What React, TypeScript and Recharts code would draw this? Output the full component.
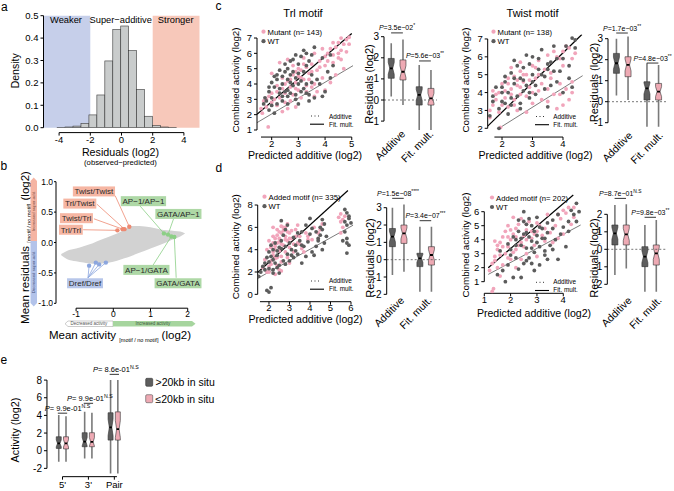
import React from "react";
import {
  ComposedChart,
  Scatter,
  Bar,
  Area,
  Line,
  XAxis,
  YAxis,
  ReferenceLine,
  ReferenceArea,
} from "recharts";

const W = 674;
const H = 491;
const FONT = "'Liberation Sans', Arial, sans-serif";
const PINK = "#f1a5bb";
const GREY = "#5c5c5c";
const BOX_FILL: Record<string, string> = { grey: "#5e5e5e", pink: "#eeaab4" };
const TONE_PT: Record<string, string> = { pink: "#ee8a72", green: "#8ccf86", blue: "#8ca6de" };
const TONE_BOX: Record<string, string> = { pink: "#f6b6a3", green: "#aed8a6", blue: "#b7c6ea" };

// a: residuals histogram
const histMids = [-3.875, -3.365, -2.855, -2.345, -1.835, -1.325, -0.815, -0.305, 0.205, 0.715, 1.225, 1.735, 2.245, 2.755, 3.265];
const histDensity = [0.001, 0.003, 0.007, 0.019, 0.057, 0.146, 0.298, 0.439, 0.454, 0.344, 0.171, 0.051, 0.009, 0.003, 0.001];
const histBinWidth = 0.51;

// b: envelope of all motif pairs + highlighted pairs
const cloudX = [-1.4, -1.25, -1.0, -0.8, -0.55, -0.35, -0.1, 0.1, 0.3, 0.45, 0.7, 1.0, 1.25, 1.45, 1.65, 1.8, 1.93];
const cloudLow = [-0.21, -0.27, -0.31, -0.33, -0.35, -0.35, -0.33, -0.3, -0.26, -0.23, -0.17, -0.1, -0.04, 0.01, 0.06, 0.1, 0.15];
const cloudHigh = [-0.19, -0.14, -0.1, -0.06, -0.01, 0.04, 0.1, 0.15, 0.21, 0.27, 0.27, 0.25, 0.22, 0.2, 0.19, 0.18, 0.15];

const motifs = [
  { name: "Twist/Twist", tone: "pink", lx: -0.52, ly: 0.84, ax: 0.05, ay: 0.77, pts: [[0.43, 0.26]] },
  { name: "Trl/Twist", tone: "pink", lx: -0.9, ly: 0.64, ax: -0.44, ay: 0.63, pts: [[0.3, 0.22]] },
  { name: "Twist/Trl", tone: "pink", lx: -0.99, ly: 0.4, ax: -0.52, ay: 0.39, pts: [[0.25, 0.22]] },
  { name: "Trl/Trl", tone: "pink", lx: -1.14, ly: 0.21, ax: -0.81, ay: 0.21, pts: [[0.11, 0.2]] },
  { name: "AP\u22121/AP\u22121", tone: "green", lx: 0.81, ly: 0.68, ax: 0.72, ay: 0.6, pts: [[1.36, 0.15]] },
  { name: "GATA/AP\u22121", tone: "green", lx: 1.75, ly: 0.47, ax: 1.62, ay: 0.39, pts: [[1.47, 0.13]] },
  { name: "AP\u22121/GATA", tone: "green", lx: 0.89, ly: -0.45, ax: 1.07, ay: -0.37, pts: [[1.56, 0.1]] },
  { name: "GATA/GATA", tone: "green", lx: 1.74, ly: -0.67, ax: 1.69, ay: -0.58, pts: [[1.64, 0.09]] },
  { name: "Dref/Dref", tone: "blue", lx: -0.76, ly: -0.67, ax: -0.68, ay: -0.58, pts: [[-0.65, -0.38], [-0.47, -0.33], [-0.38, -0.36], [-0.2, -0.33]] },
];

// c: Trl motif mutants
const trlMutant = [
  [4.6, 7.0], [4.8, 6.9], [4.9, 7.05], [4.5, 6.7], [4.7, 6.6], [4.4, 6.4], [4.2, 6.3], [4.6, 6.2], [4.8, 6.1], [4.3, 5.9],
  [4.0, 5.8], [4.5, 5.7], [4.1, 5.5], [3.8, 5.5], [4.7, 5.0], [4.4, 4.6], [3.9, 4.4], [4.2, 4.1], [3.5, 5.3], [3.3, 5.1],
  [3.1, 4.9], [3.4, 4.7], [3.0, 4.5], [2.8, 4.6], [3.2, 4.3], [2.9, 4.1], [2.6, 4.2], [3.6, 4.0], [3.3, 3.9], [2.7, 3.8],
  [2.5, 4.0], [3.0, 3.6], [2.4, 3.7], [3.7, 3.5], [2.8, 3.3], [2.2, 3.5], [2.0, 3.4], [2.3, 3.1], [3.1, 3.1], [2.1, 3.0],
  [1.9, 3.2], [1.7, 2.9], [1.8, 2.5], [1.6, 2.4], [2.2, 2.6], [2.5, 2.8], [2.7, 2.9], [2.6, 2.4], [2.9, 2.5], [2.4, 2.2],
  [1.87, 1.2], [2.3, 5.4], [2.6, 5.6], [2.8, 5.2], [2.0, 4.7], [3.6, 6.0], [3.9, 6.3], [3.2, 5.7], [3.6, 3.2], [4.0, 3.6],
  [2.9, 4.8], [3.1, 4.4], [3.4, 4.3], [3.5, 4.8], [3.7, 4.9], [3.8, 5.1], [4.0, 5.2], [4.3, 5.4], [4.6, 5.6], [4.9, 6.6],
  [4.5, 6.0], [2.7, 4.3], [2.5, 3.4], [2.2, 3.9], [2.0, 2.8], [1.8, 3.0], [1.65, 2.1], [3.3, 3.5], [3.5, 3.8], [2.9, 3.7],
  [3.2, 5.3], [4.1, 6.0], [4.3, 6.7], [3.0, 5.0], [2.4, 4.4],
];
const trlWt = [
  [3.6, 6.4], [3.3, 6.0], [3.1, 5.8], [2.9, 5.9], [3.4, 5.5], [2.7, 5.5], [2.5, 5.3], [3.0, 5.3], [2.6, 5.0], [2.3, 4.9],
  [2.8, 4.8], [3.2, 4.8], [2.4, 4.5], [2.9, 4.4], [2.2, 4.3], [2.6, 4.3], [3.5, 4.6], [2.0, 4.1], [2.4, 4.0], [3.0, 4.0],
  [2.8, 3.9], [2.1, 3.8], [2.6, 3.6], [3.2, 3.7], [1.9, 3.5], [2.3, 3.4], [2.0, 3.1], [2.6, 3.2], [1.8, 2.9], [2.4, 2.9],
  [2.2, 2.7], [2.9, 3.0], [3.3, 3.4], [3.6, 3.1], [4.0, 3.5], [3.7, 4.3], [4.1, 4.8], [4.3, 5.2], [1.9, 2.3], [2.1, 2.1],
  [3.9, 5.7], [4.2, 5.9], [3.4, 3.3], [2.7, 4.1], [3.1, 4.2], [2.5, 3.5], [2.0, 2.6], [1.7, 2.7],
  [2.7, 4.6], [3.0, 4.7], [3.3, 5.2], [3.5, 5.9], [3.2, 6.2], [2.8, 5.6], [2.5, 4.8], [2.2, 4.6], [2.1, 4.5], [2.4, 3.2],
  [2.7, 3.4], [2.9, 3.3], [3.1, 3.5], [3.3, 4.0], [3.5, 4.1], [3.8, 4.0], [4.2, 4.4], [2.3, 3.7], [1.9, 3.8], [1.75, 3.1],
  [2.6, 2.7], [3.0, 2.7], [3.4, 2.9], [3.9, 3.2],
];
const trlFitC = [[1.45, 2.03], [5.0, 7.3]];
const trlAddC = [[1.45, 1.48], [5.05, 5.2]];

// c: Twist motif mutants
const twistMutant = [
  [4.2, 6.5], [4.0, 6.3], [3.8, 6.0], [4.3, 5.9], [3.5, 6.1], [3.2, 5.8], [3.0, 5.5], [3.4, 5.3], [2.6, 5.2], [2.8, 5.0],
  [2.4, 4.9], [3.1, 4.8], [2.2, 4.8], [2.7, 4.6], [2.0, 4.5], [2.5, 4.4], [3.3, 4.5], [2.9, 4.3], [2.3, 4.2], [1.9, 4.0],
  [2.6, 3.9], [2.1, 3.7], [1.8, 3.6], [2.4, 3.6], [2.8, 3.8], [1.7, 3.3], [2.2, 3.2], [1.6, 3.0], [1.9, 2.9], [1.95, 2.05],
  [1.6, 2.6], [3.6, 4.8], [3.9, 4.5], [4.1, 4.2], [3.7, 3.9], [4.3, 4.0], [3.5, 3.5], [4.0, 3.3], [3.8, 3.1], [4.2, 3.6],
  [2.5, 3.0], [2.8, 2.9], [3.0, 4.0], [3.2, 4.1], [1.7, 4.1], [2.3, 5.4], [2.6, 5.7], [3.7, 6.3], [4.0, 5.5], [3.6, 5.1],
  [2.1, 4.1], [2.3, 3.9], [2.6, 4.3], [2.9, 4.7], [3.2, 5.0], [3.5, 4.2], [3.3, 3.6], [3.9, 5.9], [4.1, 6.6], [4.4, 6.2],
  [2.0, 3.3], [1.8, 3.9], [2.2, 4.5], [2.7, 5.0], [3.1, 5.4], [2.4, 3.3], [3.0, 3.4], [3.9, 3.9], [4.3, 4.6], [2.5, 4.7],
];
const twistWt = [
  [4.3, 7.05], [4.4, 6.95], [4.1, 6.6], [3.7, 6.6], [3.3, 6.4], [3.0, 6.0], [3.6, 5.7], [2.9, 5.6], [2.5, 5.5], [3.2, 5.3],
  [2.7, 5.4], [2.3, 5.1], [2.1, 4.9], [3.0, 5.0], [2.6, 4.8], [3.4, 4.9], [2.0, 4.3], [2.4, 4.5], [2.8, 4.4], [1.8, 4.3],
  [2.2, 4.0], [3.1, 4.4], [2.7, 4.1], [2.5, 3.8], [2.0, 3.5], [2.9, 3.7], [1.7, 3.8], [2.3, 3.3], [2.6, 3.4], [1.9, 3.1],
  [2.2, 2.8], [3.4, 4.2], [3.8, 4.6], [4.2, 4.8], [3.9, 5.2], [4.0, 4.0], [4.3, 4.3], [3.5, 3.2], [1.6, 2.7], [1.9, 2.0],
  [4.2, 5.5], [3.8, 5.9], [3.5, 5.6],
  [2.1, 4.6], [2.4, 4.8], [2.7, 4.7], [3.0, 4.6], [3.3, 5.0], [3.5, 5.3], [3.2, 5.9], [2.8, 6.1], [2.4, 5.8], [2.0, 4.0],
  [2.3, 3.7], [2.6, 3.1], [2.9, 4.0], [3.1, 3.9], [3.6, 4.4], [3.7, 5.2], [4.0, 5.9], [4.4, 6.5], [1.7, 3.5], [2.1, 3.4],
];
const twistFitC = [[1.53, 2.12], [4.62, 7.25]];
const twistAddC = [[1.9, 2.0], [4.65, 4.95]];

// d: Trl motif added
const trlAdded = [
  [1.9, 2.0], [2.0, 2.5], [2.1, 3.0], [2.2, 3.5], [2.3, 4.0], [2.4, 4.6], [2.5, 5.0], [2.6, 5.5], [2.7, 6.0], [2.2, 5.2],
  [2.4, 5.8], [2.0, 4.8], [2.8, 5.2], [2.9, 4.8], [3.0, 5.5], [3.1, 5.0], [3.2, 4.5], [3.0, 4.2], [2.8, 3.8], [2.6, 3.4],
  [2.7, 4.4], [2.5, 3.9], [2.3, 3.2], [2.1, 2.7], [2.4, 2.6], [2.6, 2.9], [2.9, 3.3], [3.2, 3.8], [3.4, 4.6], [3.5, 5.2],
  [3.6, 4.1], [3.3, 5.8], [3.8, 5.5], [3.9, 4.9], [3.7, 3.8], [4.1, 4.9], [4.5, 5.8], [4.6, 6.3], [4.2, 6.0], [5.5, 6.5],
  [5.6, 6.0], [5.5, 5.5], [5.7, 7.0], [5.4, 6.9], [2.3, 1.8], [2.6, 2.1], [2.2, 6.0], [2.9, 6.3], [3.4, 6.2], [1.8, 3.1],
  [1.9, 4.0], [3.0, 2.8], [2.5, 2.2],
  [2.1, 4.2], [2.2, 4.6], [2.3, 5.0], [2.4, 5.3], [2.5, 5.6], [2.6, 6.1], [2.7, 5.7], [2.8, 6.0], [2.9, 5.6], [3.1, 5.7],
  [2.3, 4.3], [2.6, 4.5], [2.8, 4.9], [3.0, 5.0], [3.3, 5.2], [2.5, 4.7], [2.2, 3.8], [2.4, 3.3], [3.5, 4.5], [3.9, 5.2],
  [4.4, 5.5], [1.7, 2.4], [2.0, 2.0], [5.5, 7.2], [5.6, 6.7],
];
const trlAddedWt = [
  [1.6, 2.0], [1.7, 2.5], [1.8, 2.8], [1.9, 3.3], [2.0, 3.8], [2.1, 4.4], [2.2, 2.2], [2.3, 2.8], [2.4, 3.5], [2.5, 4.2],
  [2.6, 4.8], [2.7, 5.3], [2.8, 5.8], [2.9, 6.2], [2.3, 4.6], [2.1, 3.4], [2.0, 2.3], [2.2, 1.9], [2.5, 2.6], [2.7, 3.0],
  [2.9, 3.6], [3.1, 4.0], [3.3, 4.4], [3.5, 4.8], [3.2, 3.3], [3.4, 3.6], [3.0, 3.0], [3.6, 5.6], [3.8, 6.2], [4.0, 6.8],
  [3.7, 4.3], [4.0, 5.4], [4.2, 3.5], [4.3, 4.3], [4.4, 4.8], [4.5, 5.3], [4.6, 4.0], [4.7, 4.6], [4.5, 6.0], [4.8, 5.2],
  [4.6, 6.7], [4.3, 5.6], [5.7, 7.6], [5.8, 7.3], [5.9, 6.8], [5.8, 6.2], [5.7, 5.6], [5.8, 5.0], [5.9, 4.4], [5.8, 3.7],
  [5.6, 4.8], [6.0, 6.4], [2.0, 0.2], [1.9, 0.35], [2.1, 0.6], [1.5, 1.6], [3.6, 2.8], [4.1, 3.8], [2.6, 6.6],
  [1.8, 2.2], [2.0, 2.9], [2.2, 3.1], [2.4, 3.9], [2.6, 4.1], [2.8, 4.3], [3.0, 4.6], [3.2, 5.1], [3.4, 5.5], [2.2, 4.0],
  [2.4, 2.4], [2.8, 2.7], [3.1, 3.5], [3.3, 3.9], [3.6, 4.4], [3.9, 4.7], [4.1, 5.9], [4.4, 5.0], [4.6, 5.8], [4.7, 6.3],
  [5.9, 7.0], [5.7, 6.5], [5.8, 4.6], [3.8, 3.4], [2.5, 1.9],
];
const trlFitD = [[1.45, 1.96], [5.85, 9.3]];
const trlAddD = [[1.45, 1.43], [6.1, 6.19]];

// d: Twist motif added
const twistAdded = [
  [1.2, 1.8], [1.3, 2.3], [1.4, 2.8], [1.5, 3.3], [1.6, 3.8], [1.7, 4.2], [1.8, 4.6], [1.9, 3.5], [2.0, 4.0], [2.1, 4.4],
  [2.2, 4.8], [2.3, 5.1], [2.0, 2.6], [1.7, 2.2], [1.5, 2.0], [1.8, 3.0], [2.2, 3.3], [2.4, 3.8], [2.5, 4.3], [2.6, 4.7],
  [2.7, 5.3], [2.8, 4.1], [2.9, 3.6], [3.0, 4.6], [3.1, 5.0], [3.2, 4.3], [3.3, 3.9], [3.5, 4.5], [3.7, 5.0], [3.9, 5.5],
  [4.1, 5.9], [4.2, 6.3], [3.6, 3.8], [3.8, 4.1], [4.0, 4.4], [2.4, 2.6], [2.6, 3.0], [1.3, 0.3], [1.35, 0.5], [1.6, 1.4],
  [2.1, 5.6], [2.4, 5.5], [3.4, 5.8], [1.4, 3.9], [1.9, 5.0], [4.3, 5.1], [4.4, 5.6], [3.0, 2.8], [2.2, 2.0],
  [1.5, 3.6], [1.7, 3.5], [1.9, 4.2], [2.0, 4.7], [2.2, 4.2], [2.3, 3.6], [2.5, 3.5], [2.6, 4.0], [2.8, 4.6], [3.0, 5.2],
  [3.3, 4.8], [1.4, 2.5], [1.6, 2.9], [1.9, 2.7], [2.6, 5.1], [3.8, 5.8], [4.0, 6.1], [4.4, 6.3], [2.1, 3.1], [2.9, 4.4],
];
const twistAddedWt = [
  [1.5, 1.5], [1.7, 1.8], [1.9, 2.2], [2.1, 1.3], [2.3, 1.9], [2.5, 2.3], [2.7, 2.7], [2.9, 3.1], [3.1, 3.5], [2.0, 2.9],
  [2.2, 3.6], [2.4, 4.1], [2.6, 4.5], [2.8, 5.0], [2.5, 5.3], [2.3, 4.6], [2.1, 4.2], [1.9, 3.7], [2.6, 3.4], [2.8, 3.9],
  [3.0, 4.3], [3.2, 4.8], [3.4, 5.2], [3.0, 5.6], [2.7, 5.5], [3.3, 3.2], [3.5, 3.6], [3.7, 4.0], [3.9, 4.4], [3.6, 5.4],
  [3.8, 5.8], [4.0, 4.9], [4.2, 5.3], [4.3, 6.1], [4.4, 5.8], [4.5, 6.6], [4.6, 6.0], [3.4, 2.6], [3.8, 2.6], [2.2, 2.7],
  [1.8, 1.0], [2.4, 1.3], [2.9, 1.8], [3.1, 2.2], [4.1, 3.5], [1.6, 3.2], [2.5, 6.0], [3.3, 4.1],
  [2.0, 3.3], [2.2, 4.0], [2.4, 3.6], [2.5, 4.4], [2.7, 4.2], [2.9, 4.6], [3.1, 4.9], [2.6, 5.1], [2.3, 5.4], [2.8, 3.4],
  [3.0, 3.8], [3.2, 4.1], [3.4, 4.5], [3.6, 4.8], [3.3, 2.9], [3.6, 3.3], [2.6, 2.5], [2.8, 2.3], [4.2, 4.6], [4.5, 5.3],
];
const twistFitD = [[1.15, 2.0], [4.38, 7.19]];
const twistAddD = [[1.15, 1.52], [4.66, 5.05]];

// residual boxes: [group, kind, lo, q1, median, q3, hi]
const trlBoxC = [
  [1, "grey", 0.16, 1.03, 1.5, 1.97, 2.69],
  [1, "pink", -0.24, 0.95, 1.34, 1.9, 2.87],
  [2, "grey", -1.42, -0.24, 0.24, 0.63, 1.66],
  [2, "pink", -1.42, -0.24, 0.08, 0.55, 1.42],
];
const twistBoxC = [
  [1, "grey", 0.3, 1.35, 1.83, 2.3, 3.0],
  [1, "pink", 0.08, 1.19, 1.75, 2.14, 3.1],
  [2, "grey", -1.19, 0.08, 0.63, 0.95, 1.83],
  [2, "pink", -1.19, 0.08, 0.48, 0.87, 1.75],
];
const trlBoxD = [
  [1, "grey", -0.88, 0.75, 1.33, 1.8, 3.0],
  [1, "pink", -0.69, 0.94, 1.52, 2.0, 3.19],
  [2, "grey", -1.85, -0.4, 0.08, 0.37, 1.9],
  [2, "pink", -1.85, -0.31, 0.27, 0.75, 1.9],
];
const twistBoxD = [
  [1, "grey", -1.47, 0.25, 0.91, 1.39, 2.53],
  [1, "pink", -1.09, 0.25, 0.85, 1.39, 2.57],
  [2, "grey", -2.42, -0.99, -0.42, 0.15, 1.39],
  [2, "pink", -2.42, -0.9, -0.23, 0.25, 1.68],
];
const insituBox = [
  [1, "grey", -1.25, 0.26, 0.83, 1.58, 4.04],
  [1, "pink", -1.25, 0.2, 0.83, 1.58, 3.9],
  [2, "grey", -0.87, 0.45, 1.02, 2.04, 4.4],
  [2, "pink", -0.87, 0.45, 1.0, 2.04, 4.3],
  [3, "grey", -2.57, 1.2, 2.64, 4.3, 8.0],
  [3, "pink", -2.57, 1.2, 2.45, 4.4, 8.0],
];

// p-value brackets: [group, y, p, stars]
const trlPvalC = [[1, 3.18, "=3.5e\u221202", "*"], [2, 1.85, "=5.6e\u221203", "**"]];
const twistPvalC = [[1, 3.27, "=1.7e\u221203", "**"], [2, 1.84, "=4.8e\u221203", "**"]];
const trlPvalD = [[1, 3.54, "=1.5e\u221208", "****"], [2, 2.25, "=3.4e\u221207", "***"]];
const twistPvalD = [[1, 2.91, "=8.7e\u221201", "N.S"], [2, 1.83, "=9.8e\u221203", "**"]];
const insituPval = [[1, 4.25, "= 9.9e-01", "N.S"], [2, 5.37, "= 9.9e-01", "N.S"], [3, 8.65, "= 8.6e-01", "N.S"]];

const residualCats = ["Additive", "Fit. mult."];
const insituCats = ["5'", "3'", "Pair"];

// ---------- helpers ----------
type Rect = { x0: number; x1: number; y0: number; y1: number };
const frame = (r: Rect) => ({ left: r.x0 - 1, right: W - r.x1, top: r.y0, bottom: H - r.y1 - 1 });
const xy = (pts: number[][]) => pts.map(([x, y]) => ({ x, y }));
const tickFont = { fontSize: 9.5, fill: "#000", fontFamily: FONT };

let measureCtx: CanvasRenderingContext2D | null = null;
const textWidth = (s: string, size: number) => {
  if (!measureCtx) measureCtx = document.createElement("canvas").getContext("2d");
  if (!measureCtx) return s.length * size * 0.5;
  measureCtx.font = `${size}px 'Liberation Sans'`;
  return measureCtx.measureText(s).width;
};

const Sheet = ({ children }: { children: React.ReactNode }) => (
  <div style={{ position: "absolute", left: 0, top: 0, width: W, height: H }}>{children}</div>
);

const dot = (color: string, r = 1.9) => (p: any) => <circle cx={p.cx} cy={p.cy} r={r} fill={color} />;

// ---------- panel a ----------
const histRows = histMids.map((x, i) => ({ x, d: histDensity[i] }));
const plotA = { x0: 43.5, x1: 199.5, y0: 15.7, y1: 132.6 };
const binPx = (histBinWidth * (plotA.x1 - plotA.x0)) / 10;

function PanelA() {
  return (
    <Sheet>
      <ComposedChart width={W} height={H} data={histRows} margin={frame(plotA)}>
        <XAxis type="number" dataKey="x" domain={[-5, 5]} ticks={[-4, -2, 0, 2, 4]} allowDataOverflow axisLine={false} stroke="#000" tickSize={3} tickMargin={1} tick={tickFont} height={1} interval={0} />
        <YAxis type="number" domain={[-0.022, 0.5]} ticks={[0, 0.1, 0.2, 0.3, 0.4, 0.5]} tickFormatter={(v: number) => v.toFixed(1)} allowDataOverflow axisLine={false} stroke="#000" tickSize={3} tickMargin={2} tick={tickFont} width={1} interval={0} />
        <ReferenceArea x1={-5} x2={-2} y1={0} y2={0.5} fill="#c6cfea" fillOpacity={1} stroke="none" ifOverflow="visible" />
        <ReferenceArea x1={2} x2={5} y1={0} y2={0.5} fill="#f7c8ba" fillOpacity={1} stroke="none" ifOverflow="visible" />
        <Bar
          dataKey="d"
          barSize={4}
          isAnimationActive={false}
          shape={(p: any) => (
            <rect x={p.x + p.width / 2 - binPx / 2} y={p.y} width={binPx} height={Math.max(p.height, 0)} fill="#c9cccc" stroke="#3a3a3a" strokeWidth={0.6} />
          )}
        />
        <ReferenceLine segment={[{ x: -4, y: -0.022 }, { x: 4, y: -0.022 }]} stroke="#000" ifOverflow="visible" />
        <ReferenceLine segment={[{ x: -5, y: 0 }, { x: -5, y: 0.5 }]} stroke="#000" ifOverflow="visible" />
      </ComposedChart>
    </Sheet>
  );
}

// ---------- panel b ----------
const cloudRows = cloudX.map((x, i) => ({ x, band: [cloudLow[i], cloudHigh[i]] }));
const motifPts = motifs.flatMap((m) => m.pts.map(([x, y]) => ({ x, y, tone: m.tone })));
const motifTags = motifs.map((m) => ({ x: m.lx, y: m.ly, name: m.name, tone: m.tone }));

const tagShape = (p: any) => {
  const { cx, cy, payload } = p;
  const w = textWidth(payload.name, 8) + 3.5;
  return (
    <g>
      <rect x={cx - w / 2} y={cy - 5} width={w} height={10} fill={TONE_BOX[payload.tone]} />
      <text x={cx} y={cy + 2.9} textAnchor="middle" fontSize={8} fontFamily={FONT} fill="#2a2a2a">
        {payload.name}
      </text>
    </g>
  );
};

function PanelB() {
  const bTick = { ...tickFont, fontSize: 8.5 };
  return (
    <Sheet>
      <ComposedChart width={W} height={H} data={cloudRows} margin={frame({ x0: 56, x1: 202.6, y0: 181.7, y1: 308.2 })}>
        <XAxis type="number" dataKey="x" domain={[-1.54, 2.4]} ticks={[-1, 0, 1, 2]} allowDataOverflow axisLine={false} stroke="#000" tickSize={3} tickMargin={0} tick={bTick} height={1} interval={0} />
        <YAxis type="number" dataKey="y" domain={[-1.08, 1.0]} ticks={[-1, -0.5, 0, 0.5, 1]} tickFormatter={(v: number) => v.toFixed(1)} allowDataOverflow axisLine={false} stroke="#000" tickSize={2} tickMargin={1} tick={bTick} width={1} interval={0} />
        <Area dataKey="band" type="monotone" fill="#d2d2d2" fillOpacity={1} stroke="none" isAnimationActive={false} />
        {motifs.flatMap((m) =>
          m.pts.map((pt, j) => (
            <ReferenceLine key={m.name + j} segment={[{ x: m.ax, y: m.ay }, { x: pt[0], y: pt[1] }]} stroke={TONE_PT[m.tone]} strokeWidth={0.8} ifOverflow="visible" />
          ))
        )}
        <Scatter data={motifPts} dataKey="y" isAnimationActive={false} shape={(p: any) => <circle cx={p.cx} cy={p.cy} r={2.2} fill={TONE_PT[p.payload.tone]} />} />
        <Scatter data={motifTags} dataKey="y" isAnimationActive={false} shape={tagShape} />
        <ReferenceLine segment={[{ x: -1, y: -1.08 }, { x: 2, y: -1.08 }]} stroke="#000" ifOverflow="visible" />
        <ReferenceLine segment={[{ x: -1.54, y: -1 }, { x: -1.54, y: 1 }]} stroke="#000" ifOverflow="visible" />
      </ComposedChart>
    </Sheet>
  );
}

// ---------- c/d scatter panels ----------
const scatterPanels = [
  { plot: { x0: 257, x1: 353.1, y0: 31.9, y1: 137.05 }, xDomain: [1.45, 5.05], yDomain: [0.54, 7.4], xTicks: [2, 3, 4, 5], yTicks: [1, 2, 3, 4, 5, 6, 7], xLine: [1.6, 5], yLine: [1, 7], mut: trlMutant, wt: trlWt, fit: trlFitC, add: trlAddC },
  { plot: { x0: 487.7, x1: 582.8, y0: 34.5, y1: 137.05 }, xDomain: [1.53, 4.65], yDomain: [1.51, 7.25], xTicks: [2, 3, 4], yTicks: [2, 3, 4, 5, 6, 7], xLine: [1.75, 4], yLine: [2, 7], mut: twistMutant, wt: twistWt, fit: twistFitC, add: twistAddC },
  { plot: { x0: 257.7, x1: 355.1, y0: 189.4, y1: 301.7 }, xDomain: [1.45, 6.2], yDomain: [-0.66, 9.4], xTicks: [2, 3, 4, 5, 6], yTicks: [0, 2, 4, 6, 8], xLine: [1.56, 6], yLine: [0, 8], mut: trlAdded, wt: trlAddedWt, fit: trlFitD, add: trlAddD },
  { plot: { x0: 484.3, x1: 581.7, y0: 193.5, y1: 293.3 }, xDomain: [1.0, 4.7], yDomain: [0.17, 7.3], xTicks: [1, 2, 3, 4], yTicks: [1, 2, 3, 4, 5, 6], xLine: [1, 4], yLine: [1, 6], mut: twistAdded, wt: twistAddedWt, fit: twistFitD, add: twistAddD },
];

function ScatterPanel({ p }: { p: any }) {
  const [x0] = p.xDomain;
  const [y0] = p.yDomain;
  return (
    <Sheet>
      <ComposedChart width={W} height={H} margin={frame(p.plot)}>
        <XAxis type="number" dataKey="x" domain={p.xDomain} ticks={p.xTicks} allowDataOverflow axisLine={false} stroke="#000" tickSize={3} tickMargin={0} tick={tickFont} height={1} interval={0} />
        <YAxis type="number" dataKey="y" domain={p.yDomain} ticks={p.yTicks} allowDataOverflow axisLine={false} stroke="#000" tickSize={3} tickMargin={2} tick={tickFont} width={1} interval={0} />
        <Scatter data={xy(p.mut)} dataKey="y" isAnimationActive={false} shape={dot(PINK)} />
        <Scatter data={xy(p.wt)} dataKey="y" isAnimationActive={false} shape={dot(GREY)} />
        <Line data={xy(p.add)} dataKey="y" type="linear" stroke="#444" strokeWidth={0.7} dot={false} isAnimationActive={false} />
        <Line data={xy(p.fit)} dataKey="y" type="linear" stroke="#000" strokeWidth={1.2} dot={false} isAnimationActive={false} />
        <ReferenceLine segment={[{ x: p.xLine[0], y: y0 }, { x: p.xLine[1], y: y0 }]} stroke="#000" ifOverflow="visible" />
        <ReferenceLine segment={[{ x: x0, y: p.yLine[0] }, { x: x0, y: p.yLine[1] }]} stroke="#000" ifOverflow="visible" />
      </ComposedChart>
    </Sheet>
  );
}

// ---------- box panels ----------
const boxShape = (width: number) => (props: any) => {
  const { x, y, height, payload } = props;
  const top = Math.min(y, y + height);
  const h = Math.abs(height);
  const k = h / (payload.q3 - payload.q1);
  const py = (v: number) => top + (payload.q3 - v) * k;
  const cx = x + props.width / 2;
  const l = cx - width / 2;
  const r = cx + width / 2;
  const m = py(payload.med);
  const bot = top + h;
  const nh = Math.min(m - top, bot - m, h * 0.3);
  const ins = width * 0.25;
  const poly = [
    [l, top], [r, top], [r, m - nh], [r - ins, m], [r, m + nh], [r, bot],
    [l, bot], [l, m + nh], [l + ins, m], [l, m - nh],
  ].map((q) => q.join(",")).join(" ");
  return (
    <g>
      <line x1={cx} x2={cx} y1={py(payload.hi)} y2={py(payload.lo)} stroke="#7a7a7a" strokeWidth={1.6} />
      <polygon points={poly} fill={BOX_FILL[payload.kind]} stroke="#333" strokeWidth={0.6} />
      <line x1={l + ins} x2={r - ins} y1={m} y2={m} stroke="#000" strokeWidth={1.8} />
    </g>
  );
};

const PLabel = (props: any) => {
  const { viewBox, p, sig, size, shift = 0 } = props;
  const cx = viewBox.x + viewBox.width / 2 + shift;
  return (
    <text x={cx} y={viewBox.y - 2.5} textAnchor="middle" fontSize={size} fontFamily={FONT} fill="#000">
      <tspan fontStyle="italic">P</tspan>
      {p}
      <tspan fontSize={size * 0.7} dy={-3}>{sig}</tspan>
    </text>
  );
};

const boxPanels = [
  { plot: { x0: 384, x1: 437, y0: 32.48, y1: 131.65 }, xDomain: [0.536, 2.43], yDomain: [-1.5, 3.2], yTicks: [-1, 0, 1, 2, 3], yLine: [-1, 3], off: 0.21, boxW: 6, stats: trlBoxC, pvals: trlPvalC, ldx: 9, ldy: 3 },
  { plot: { x0: 608, x1: 666, y0: 29.25, y1: 130.05 }, xDomain: [0.54, 2.44], yDomain: [-1.35, 3.45], yTicks: [-1, 0, 1, 2, 3], yLine: [-1, 3], off: 0.19, boxW: 6, stats: twistBoxC, pvals: twistPvalC, ldx: 11, ldy: 6 },
  { plot: { x0: 386.7, x1: 440, y0: 197.3, y1: 295.2 }, xDomain: [0.59, 2.53], yDomain: [-2.05, 3.6], yTicks: [-2, -1, 0, 1, 2, 3], yLine: [-2, 3], off: 0.21, boxW: 6, stats: trlBoxD, pvals: trlPvalD, ldx: 7, ldy: 6 },
  { plot: { x0: 607.3, x1: 667, y0: 197.7, y1: 293.05 }, xDomain: [0.567, 2.557], yDomain: [-2.5, 2.95], yTicks: [-2, -1, 0, 1, 2], yLine: [-2, 2], off: 0.19, boxW: 6, stats: twistBoxD, pvals: twistPvalD, ldx: 12, ldy: 8 },
];

const toRows = (stats: any[], off: number) =>
  stats.map(([g, kind, lo, q1, med, q3, hi]) => ({ x: g + (kind === "grey" ? -off : off), kind, lo, q1, med, q3, hi }));

function ResidualBoxPanel({ b }: { b: any }) {
  const rows = toRows(b.stats, b.off);
  const tick = (t: any) => (
    <text transform={`translate(${t.x + b.ldx},${t.y + b.ldy}) rotate(-45)`} textAnchor="end" fontSize={10.5} fontFamily={FONT} fill="#000">
      {residualCats[t.payload.value - 1]}
    </text>
  );
  return (
    <Sheet>
      <ComposedChart width={W} height={H} data={rows} margin={frame(b.plot)}>
        <XAxis type="number" dataKey="x" domain={b.xDomain} ticks={[1, 2]} allowDataOverflow axisLine={false} tickLine={false} tickSize={0} tickMargin={0} tick={tick} height={1} interval={0} />
        <YAxis type="number" domain={b.yDomain} ticks={b.yTicks} allowDataOverflow axisLine={false} stroke="#000" tickSize={3} tickMargin={2} tick={{ ...tickFont, fontSize: 10 }} width={1} interval={0} />
        <ReferenceLine y={0} stroke="#555" strokeWidth={0.8} strokeDasharray="2 2" ifOverflow="visible" />
        <Bar dataKey={(d: any) => [d.q1, d.q3]} barSize={b.boxW} isAnimationActive={false} shape={boxShape(b.boxW)} />
        {b.pvals.map(([g, y, p, sig]: any) => (
          <ReferenceLine key={g} segment={[{ x: g - b.off, y }, { x: g + b.off, y }]} stroke="#000" strokeWidth={0.8} ifOverflow="visible" label={<PLabel p={p} sig={sig} size={7} />} />
        ))}
        <ReferenceLine segment={[{ x: b.xDomain[0], y: b.yLine[0] }, { x: b.xDomain[0], y: b.yLine[1] }]} stroke="#000" ifOverflow="visible" />
      </ComposedChart>
    </Sheet>
  );
}

// ---------- panel e ----------
function PanelE() {
  const off = 0.14;
  const rows = toRows(insituBox, off);
  const yDomain = [-2.94, 8.1];
  return (
    <Sheet>
      <ComposedChart width={W} height={H} data={rows} margin={frame({ x0: 46.96, x1: 123.4, y0: 379.2, y1: 476.66 })}>
        <XAxis type="number" dataKey="x" domain={[0.4, 3.35]} ticks={[1, 2, 3]} tickFormatter={(v: number) => insituCats[v - 1]} allowDataOverflow axisLine={false} stroke="#000" tickSize={3} tickMargin={2} tick={tickFont} height={1} interval={0} />
        <YAxis type="number" domain={yDomain} ticks={[-2, 0, 2, 4, 6, 8]} allowDataOverflow axisLine={false} stroke="#000" tickSize={3} tickMargin={2} tick={{ ...tickFont, fontSize: 10 }} width={1} interval={0} />
        <Bar dataKey={(d: any) => [d.q1, d.q3]} barSize={5} isAnimationActive={false} shape={boxShape(5)} />
        {insituPval.map(([g, y, p, sig]: any) => (
          <ReferenceLine key={g} segment={[{ x: g - off - 0.04, y }, { x: g + off + 0.04, y }]} stroke="#000" strokeWidth={0.8} ifOverflow="visible" label={<PLabel p={p} sig={sig} size={7.5} shift={g === 1 ? 5 : 1.5} />} />
        ))}
        <ReferenceLine segment={[{ x: 1, y: yDomain[0] }, { x: 3.1, y: yDomain[0] }]} stroke="#000" ifOverflow="visible" />
        <ReferenceLine segment={[{ x: 0.4, y: -2 }, { x: 0.4, y: 8 }]} stroke="#000" ifOverflow="visible" />
      </ComposedChart>
    </Sheet>
  );
}

// ---------- text and decorations ----------
const scatterLegends = [
  { dx: 263.5, dy: 31.7, label: "Mutant (n= 143)", lx: 310, ly: 116, ty: 118.5, ty2: 126.7, tx: 329 },
  { dx: 493.5, dy: 31.7, label: "Mutant (n= 138)", lx: 535, ly: 116.5, ty: 119.3, ty2: 127.3, tx: 553.3 },
  { dx: 264.5, dy: 196.7, label: "Added motif (n= 335)", lx: 310, ly: 281, ty: 282.7, ty2: 291, tx: 329 },
  { dx: 492, dy: 197.5, label: "Added motif (n= 202)", lx: 535, ly: 282.3, ty: 284.3, ty2: 292.3, tx: 553.3 },
];

function Overlay() {
  const rot = (x: number, y: number, size: number, s: React.ReactNode) => (
    <text transform={`translate(${x},${y}) rotate(-90)`} textAnchor="middle" fontSize={size}>{s}</text>
  );
  return (
    <svg width={W} height={H} style={{ position: "absolute", left: 0, top: 0 }} fontFamily={FONT} fill="#000">
      <text x={1} y={10.5} fontSize={12}>a</text>
      <text x={0.5} y={170} fontSize={12}>b</text>
      <text x={215.5} y={10} fontSize={12}>c</text>
      <text x={215.5} y={172} fontSize={12}>d</text>
      <text x={0.5} y={363.5} fontSize={12}>e</text>

      <text x={66} y={23.2} fontSize={9.3} textAnchor="middle">Weaker</text>
      <text x={120.7} y={23.2} fontSize={9.3} textAnchor="middle">Super{"\u2212"}additive</text>
      <text x={175.7} y={23.2} fontSize={9.3} textAnchor="middle">Stronger</text>
      {rot(18.5, 70.8, 10.5, "Density")}
      <text x={120.5} y={155.5} fontSize={10.7} textAnchor="middle">Residuals (log2)</text>
      <text x={120.5} y={165.4} fontSize={7.7} textAnchor="middle">(observed{"\u2212"}predicted)</text>

      {rot(28.5, 247.5, 11.5, <>Mean residuals <tspan fontSize={5.5} dy={2.5}>[motif / no motif]</tspan><tspan dy={-2.5}> (log2)</tspan></>)}
      <text x={120} y={339} fontSize={11.5} textAnchor="middle">Mean activity <tspan fontSize={5.5} dy={2.5}>[motif / no motif]</tspan><tspan dy={-2.5}> (log2)</tspan></text>
      <polygon points="65,323.75 68,321 113,321 113,326.5 68,326.5" fill="#fff" stroke="#999" strokeWidth={0.5} />
      <polygon points="113,321 192,321 195.5,323.75 192,326.5 113,326.5" fill="#a6d59e" />
      <text x={89} y={325.3} fontSize={4.5} textAnchor="middle" fill="#555">Decreased activity</text>
      <text x={153} y={325.3} fontSize={4.5} textAnchor="middle" fill="#3d5a3a">Increased activity</text>
      <polygon points="33.75,177.5 37,181 37,241 30.5,241 30.5,181" fill="#f5b4a3" />
      <polygon points="30.5,241 37,241 37,303 33.75,306.5 30.5,303" fill="#b3c3ea" />
      <text transform="translate(35.3,211) rotate(-90)" textAnchor="middle" fontSize={4.3} fill="#7a4a3d">Increased super-add.</text>
      <text transform="translate(35.3,272) rotate(-90)" textAnchor="middle" fontSize={4.3} fill="#3f4f7a">Decreased super-add.</text>

      <text x={303} y={17.3} fontSize={11} textAnchor="middle">Trl motif</text>
      <text x={532.5} y={17.3} fontSize={11} textAnchor="middle">Twist motif</text>
      {rot(238.5, 80, 9.8, "Combined activity (log2)")}
      {rot(468.5, 80, 9.8, "Combined activity (log2)")}
      {rot(238.5, 246.7, 9.8, "Combined activity (log2)")}
      {rot(468.5, 245, 9.8, "Combined activity (log2)")}
      <text x={305} y={159} fontSize={10.6} textAnchor="middle">Predicted additive (log2)</text>
      <text x={535.5} y={159} fontSize={10.6} textAnchor="middle">Predicted additive (log2)</text>
      <text x={305.5} y={323} fontSize={10.6} textAnchor="middle">Predicted additive (log2)</text>
      <text x={534} y={317} fontSize={10.6} textAnchor="middle">Predicted additive (log2)</text>
      {rot(372.5, 84, 11, "Residuals (log2)")}
      {rot(597.5, 82.5, 11, "Residuals (log2)")}
      {rot(373.5, 258, 11, "Residuals (log2)")}
      {rot(597.5, 258, 11, "Residuals (log2)")}

      {scatterLegends.map((g) => (
        <g key={g.label}>
          <circle cx={g.dx} cy={g.dy} r={2.1} fill={PINK} />
          <text x={g.dx + 4} y={g.dy + 3} fontSize={7.7}>{g.label}</text>
          <circle cx={g.dx} cy={g.dy + 9.5} r={2.1} fill={GREY} />
          <text x={g.dx + 4} y={g.dy + 12.5} fontSize={7.7}>WT</text>
          <line x1={g.lx + 1} x2={g.lx + 9} y1={g.ly} y2={g.ly} stroke="#333" strokeWidth={1} strokeDasharray="1 2.5" />
          <text x={g.tx} y={g.ty} fontSize={6.4}>Additive</text>
          <line x1={g.lx} x2={g.lx + 14} y1={g.ly + 8.2} y2={g.ly + 8.2} stroke="#000" strokeWidth={1.1} />
          <text x={g.tx} y={g.ty2} fontSize={6.4}>Fit. mult.</text>
        </g>
      ))}

      {rot(19, 430, 10.8, "Activity (log2)")}
      <rect x={145.7} y={378.3} width={7} height={8} rx={1.2} fill={BOX_FILL.grey} stroke="#333" strokeWidth={0.6} />
      <text x={155.5} y={386} fontSize={10.5}>&gt;20kb in situ</text>
      <rect x={145.7} y={394.7} width={7} height={8} rx={1.2} fill={BOX_FILL.pink} stroke="#555" strokeWidth={0.6} />
      <text x={155.5} y={402.5} fontSize={10.5}>{"\u2264"}20kb in situ</text>
    </svg>
  );
}

export default function App() {
  return (
    <div style={{ position: "absolute", left: 0, top: 0, width: W, height: H, background: "#fff", fontFamily: FONT, overflow: "hidden" }}>
      <PanelA />
      <PanelB />
      {scatterPanels.map((p, i) => (
        <ScatterPanel key={i} p={p} />
      ))}
      {boxPanels.map((b, i) => (
        <ResidualBoxPanel key={i} b={b} />
      ))}
      <PanelE />
      <Overlay />
    </div>
  );
}
